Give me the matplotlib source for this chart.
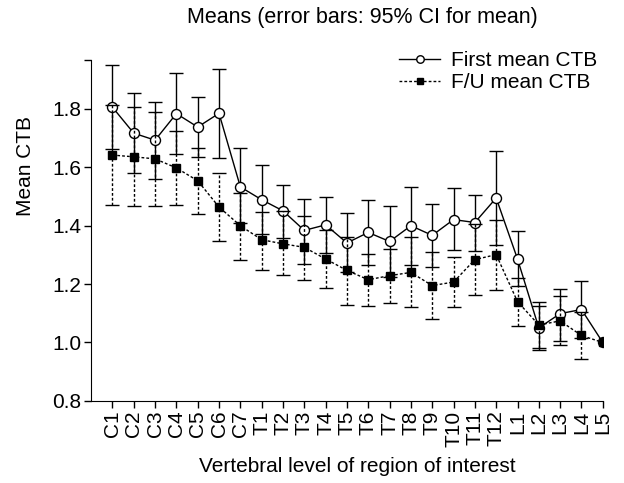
import numpy as np
import matplotlib
matplotlib.use("Agg")
import matplotlib.pyplot as plt

plt.rcParams["font.family"] = ["Liberation Sans", "DejaVu Sans"]

levels = ["C1", "C2", "C3", "C4", "C5", "C6", "C7",
          "T1", "T2", "T3", "T4", "T5", "T6", "T7", "T8", "T9", "T10", "T11", "T12",
          "L1", "L2", "L3", "L4", "L5"]

first_mean = [1.806, 1.717, 1.693, 1.784, 1.738, 1.785, 1.533, 1.489, 1.451, 1.384, 1.403, 1.341,
              1.377, 1.346, 1.400, 1.367, 1.421, 1.411, 1.495, 1.286, 1.050, 1.099, 1.113, 1.000]
first_lo = [1.663, 1.580, 1.561, 1.644, 1.635, 1.632, 1.410, 1.370, 1.358, 1.270, 1.306, 1.240,
            1.265, 1.226, 1.266, 1.259, 1.316, 1.315, 1.335, 1.193, 0.975, 1.004, 1.017, 1.000]
first_hi = [1.950, 1.854, 1.825, 1.924, 1.841, 1.938, 1.666, 1.609, 1.541, 1.493, 1.500, 1.443,
            1.489, 1.466, 1.534, 1.475, 1.529, 1.506, 1.656, 1.381, 1.140, 1.184, 1.209, 1.000]

fu_mean = [1.642, 1.636, 1.629, 1.598, 1.554, 1.464, 1.400, 1.352, 1.338, 1.326, 1.286, 1.247,
           1.215, 1.229, 1.240, 1.195, 1.207, 1.284, 1.301, 1.140, 1.060, 1.074, 1.024, 1.000]
fu_lo = [1.472, 1.467, 1.467, 1.472, 1.441, 1.346, 1.281, 1.250, 1.231, 1.215, 1.186, 1.128,
         1.124, 1.136, 1.121, 1.079, 1.120, 1.163, 1.180, 1.058, 0.980, 0.990, 0.942, 1.000]
fu_hi = [1.812, 1.808, 1.791, 1.724, 1.667, 1.582, 1.512, 1.447, 1.450, 1.435, 1.386, 1.361,
         1.304, 1.321, 1.361, 1.310, 1.294, 1.405, 1.418, 1.222, 1.125, 1.158, 1.106, 1.000]

x = np.arange(1, len(levels) + 1)
dots = (0, (2, 1.5))
fs = 15


def draw_errs(ax, mean, lo, hi, ls, z):
    # skip points without a CI (L5 is the reference level)
    mean, lo, hi = map(np.asarray, (mean, lo, hi))
    m = hi > lo
    err = [mean[m] - lo[m], hi[m] - mean[m]]
    eb = ax.errorbar(x[m], mean[m], yerr=err, fmt="none", ecolor="black",
                     elinewidth=1.0, capsize=4.7, capthick=1.0, zorder=z)
    for lc in eb[2]:
        lc.set_linestyle(ls)


fig = plt.figure(figsize=(6.24, 4.83), dpi=100)
ax = fig.add_axes([0.146, 0.170, 0.820, 0.706])

draw_errs(ax, first_mean, first_lo, first_hi, "-", 2)
ax.plot(x, first_mean, "-", color="black", lw=1.0, marker="o", ms=7.2,
        mfc="white", mec="black", mew=1.0, zorder=3, label="First mean CTB")
draw_errs(ax, fu_mean, fu_lo, fu_hi, dots, 4)
ax.plot(x, fu_mean, linestyle=dots, color="black", lw=1.0, marker="s", ms=6,
        mfc="black", mec="black", zorder=5, label="F/U mean CTB")

ax.set_xlim(0, 24)
ax.set_ylim(0.8, 1.968)
ax.set_xticks(x)
ax.set_xticklabels(levels, rotation=90, fontsize=fs)
ax.set_yticks([0.8, 1.0, 1.2, 1.4, 1.6, 1.8, 1.968])
ax.set_yticklabels(["0.8", "1.0", "1.2", "1.4", "1.6", "1.8", ""], fontsize=fs)
ax.tick_params(direction="out", length=5, width=1.0, pad=2)
for s in ["top", "right"]:
    ax.spines[s].set_visible(False)

ax.set_ylabel("Mean CTB", fontsize=fs)
ax.yaxis.set_label_coords(-0.11, 0.69)
fig.text(357 / 624, 1 - 466 / 483, "Vertebral level of region of interest",
         ha="center", va="center", fontsize=fs)
fig.text(362 / 624, 1 - 18 / 483, "Means (error bars: 95% CI for mean)",
         ha="center", va="center", fontsize=15.5)

ax.legend(loc="upper left", bbox_to_anchor=(0.585, 1.05), frameon=False,
          fontsize=fs, handlelength=2.0, handletextpad=0.5, labelspacing=0.15,
          markerscale=0.75, borderaxespad=0)

fig.savefig("out.png", dpi=100)
